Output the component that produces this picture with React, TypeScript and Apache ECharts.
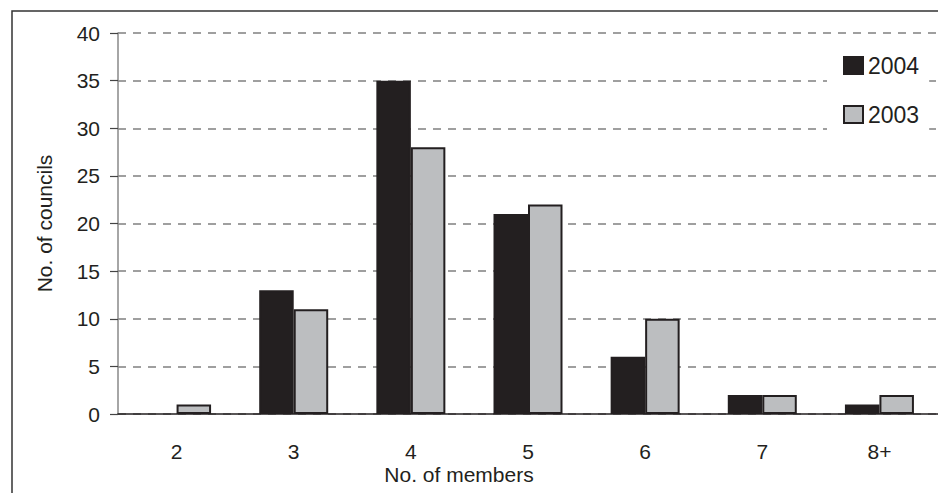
import React, { useEffect, useRef } from "react";
import * as echarts from "echarts";

const categories = ["2", "3", "4", "5", "6", "7", "8+"];
const series2004 = [0, 13, 35, 21, 6, 2, 1];
const series2003 = [1, 11, 28, 22, 10, 2, 2];
const yTicks = { min: 0, max: 40, interval: 5 };
const xTitle = "No. of members";
const yTitle = "No. of councils";

const FONT = "'Liberation Sans', Arial, sans-serif";
const DARK = "#231f20";

const toData = (arr: number[]) =>
  arr.map((v) => (v === 0 ? { value: v, itemStyle: { borderWidth: 0 } } : v));

export default function App() {
  const ref = useRef<HTMLDivElement>(null);
  useEffect(() => {
    if (!ref.current) return;
    const chart = echarts.init(ref.current, undefined, { renderer: "svg" });
    chart.setOption({
      animation: false,
      backgroundColor: "#fff",
      textStyle: { fontFamily: FONT },
      grid: { left: 118, top: 33, width: 828, height: 381, containLabel: false },
      legend: {
        orient: "vertical",
        left: 827,
        top: 42,
        backgroundColor: "#fff",
        padding: [12, 10, 14, 16],
        icon: "rect",
        itemWidth: 19,
        itemHeight: 17,
        itemGap: 26,
        textStyle: { fontFamily: FONT, fontSize: 23, color: DARK },
        data: ["2004", "2003"],
      },
      xAxis: {
        type: "category",
        data: categories,
        axisLine: { lineStyle: { color: DARK, width: 1.5 } },
        axisTick: { length: 9, lineStyle: { color: DARK, width: 1.2 } },
        axisLabel: { fontFamily: FONT, fontSize: 21, lineHeight: 18, color: DARK, margin: 28 },
      },
      yAxis: {
        type: "value",
        min: yTicks.min,
        max: yTicks.max,
        interval: yTicks.interval,
        name: yTitle,
        nameLocation: "middle",
        nameGap: 63,
        nameTextStyle: { fontFamily: FONT, fontSize: 21, color: DARK },
        axisLine: { show: true, lineStyle: { color: "#888", width: 1.5 } },
        axisTick: { show: true, length: 8, lineStyle: { color: "#444", width: 1.2 } },
        axisLabel: { fontFamily: FONT, fontSize: 21, color: DARK, margin: 18 },
        splitLine: { lineStyle: { color: "#808080", width: 1.5, type: [8, 7] } },
      },
      series: [
        {
          name: "2004",
          type: "bar",
          data: toData(series2004),
          barWidth: 34.5,
          barGap: "0%",
          itemStyle: { color: DARK, borderColor: DARK, borderWidth: 2 },
        },
        {
          name: "2003",
          type: "bar",
          data: toData(series2003),
          barWidth: 34.5,
          barGap: "0%",
          itemStyle: { color: "#bcbec0", borderColor: DARK, borderWidth: 2 },
        },
      ],
      graphic: [
        {
          type: "rect",
          shape: { x: 12, y: 11, width: 1000, height: 1000 },
          style: { fill: "none", stroke: "#333", lineWidth: 1.5 },
          silent: true,
        },
        {
          type: "text",
          x: 459,
          y: 474,
          style: {
            text: xTitle,
            fontFamily: FONT,
            fontSize: 21,
            fill: DARK,
            align: "center",
            verticalAlign: "middle",
          },
        },
      ],
    });
    return () => chart.dispose();
  }, []);
  return (
    <div
      ref={ref}
      style={{ position: "absolute", left: 0, top: 0, width: 938, height: 493 }}
    />
  );
}
